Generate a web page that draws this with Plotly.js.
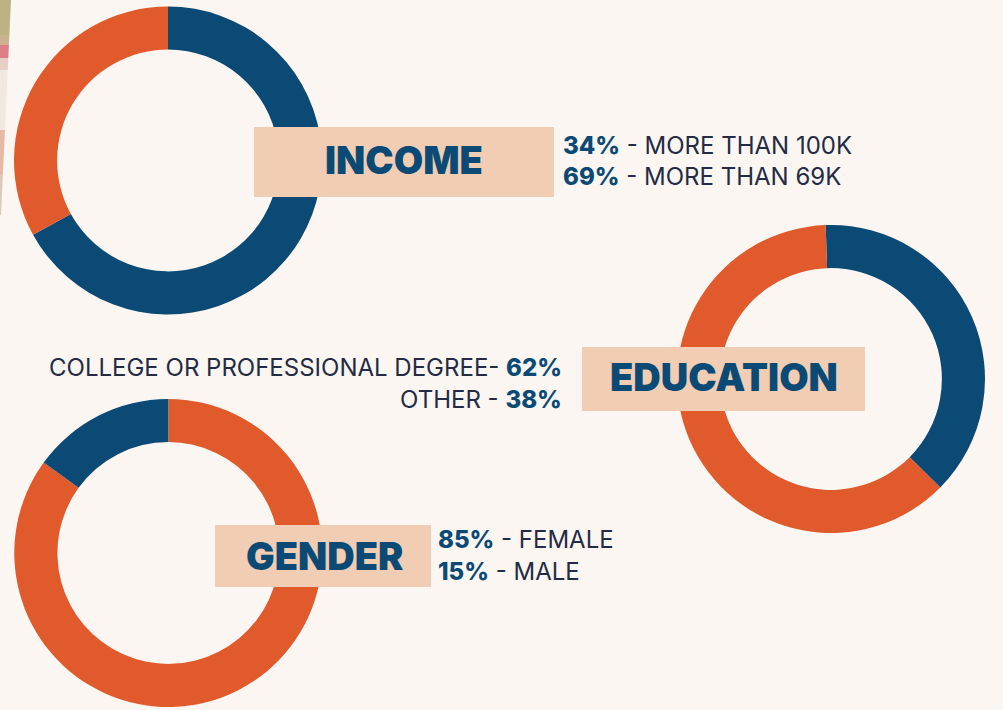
<!DOCTYPE html>
<html>
<head>
<meta charset="utf-8">
<script src="https://cdn.plot.ly/plotly-3.0.1.min.js"></script>
<style>
html,body{margin:0;padding:0;background:#fcf6f2;}
#chart{width:1003px;height:710px;}
</style>
</head>
<body>
<div id="chart"></div>
<script>
// ---- data ----
var incomeLabels = ['More than 69K', 'Other'];
var incomeValues = [67, 33];
var educationLabels = ['Other', 'College or professional degree'];
var educationValues = [38, 62];
var genderLabels = ['Female', 'Male'];
var genderValues = [85, 15];

var incomeText = [['34%', ' - MORE THAN 100K'], ['69%', ' - MORE THAN 69K']];
var educationText = [['COLLEGE OR PROFESSIONAL DEGREE- ', '62%'], ['OTHER - ', '38%']];
var genderText = [['85%', ' - FEMALE'], ['15%', ' - MALE']];

// ---- style ----
var BLUE = '#0c4a76', ORANGE = '#e05a2b', BOX = '#f1cdb3', INK = '#232b45', BG = '#fcf6f2';
var W = 1003, H = 710;
function px(x){return x / W;}
function py(y){return 1 - y / H;}
function dom(cx, cy, r){return {x:[px(cx - r), px(cx + r)], y:[py(cy + r), py(cy - r)]};}

function donut(labels, values, colors, d, rot){
  return {type:'pie', labels:labels, values:values, sort:false, direction:'clockwise',
    rotation:rot || 0, hole:0.72, textinfo:'none', hoverinfo:'label+percent',
    marker:{colors:colors, line:{width:0}}, domain:d, showlegend:false};
}

var data = [
  donut(incomeLabels, incomeValues, [BLUE, ORANGE], dom(168, 160.5, 154), 0),
  donut(educationLabels, educationValues, [BLUE, ORANGE], dom(831, 379, 154), -2),
  donut(genderLabels, genderValues, [ORANGE, BLUE], dom(168.3, 553, 154), 0)
];

var big = {family:'Inter, "Noto Sans", sans-serif', size:38, color:BLUE, weight:900};
var reg = {family:'Inter, "Noto Sans", sans-serif', size:24, color:INK, weight:400};
function pct(s){return '<span style="color:' + BLUE + ';font-weight:800">' + s + '</span>';}

function ann(x, y, text, font, xanchor){
  return {xref:'paper', yref:'paper', x:px(x), y:py(y), text:text, showarrow:false,
    xanchor:xanchor, yanchor:'middle', font:font};
}

var annotations = [
  ann(404, 160, 'INCOME', big, 'center'),
  ann(723.5, 377, 'EDUCATION', big, 'center'),
  ann(324, 556, 'GENDER', big, 'center'),
  ann(561, 146, pct(incomeText[0][0]) + incomeText[0][1], reg, 'left'),
  ann(561, 176, pct(incomeText[1][0]) + incomeText[1][1], reg, 'left'),
  ann(564, 367, educationText[0][0] + pct(educationText[0][1]), reg, 'right'),
  ann(564, 399, educationText[1][0] + pct(educationText[1][1]), reg, 'right'),
  ann(436, 539, pct(genderText[0][0]) + genderText[0][1], reg, 'left'),
  ann(436, 571, pct(genderText[1][0]) + genderText[1][1], reg, 'left')
];

function rect(x0, y0, x1, y1){
  return {type:'rect', xref:'paper', yref:'paper', x0:px(x0), x1:px(x1), y0:py(y1), y1:py(y0),
    fillcolor:BOX, line:{width:0}, layer:'above'};
}
function poly(pts, color){
  var p = 'M' + pts.map(function(q){return px(q[0]) + ',' + py(q[1]);}).join(' L') + ' Z';
  return {type:'path', xref:'paper', yref:'paper', path:p, fillcolor:color, line:{width:0}, layer:'below'};
}
function edge(y){return 11 - 10 * y / 215;}
function band(y0, y1, color){return poly([[0,y0],[edge(y0),y0],[edge(y1),y1],[0,y1]], color);}

var shapes = [
  // photo sliver at left edge
  band(0, 35, '#bdb283'),
  band(35, 45, '#c9b48f'),
  band(45, 58, '#dc7e86'),
  band(58, 70, '#e6cfc5'),
  band(70, 130, '#f0e9e2'),
  band(130, 175, '#e6b9a6'),
  band(175, 215, '#d8cbb8'),
  rect(254, 127, 554, 197),
  rect(582, 347, 865, 411),
  rect(215, 525, 431, 587)
];

var layout = {
  width:W, height:H, margin:{l:0, r:0, t:0, b:0},
  paper_bgcolor:BG, plot_bgcolor:BG,
  shapes:shapes, annotations:annotations, showlegend:false
};

Plotly.newPlot('chart', data, layout, {displayModeBar:false, staticPlot:true});
</script>
</body>
</html>
